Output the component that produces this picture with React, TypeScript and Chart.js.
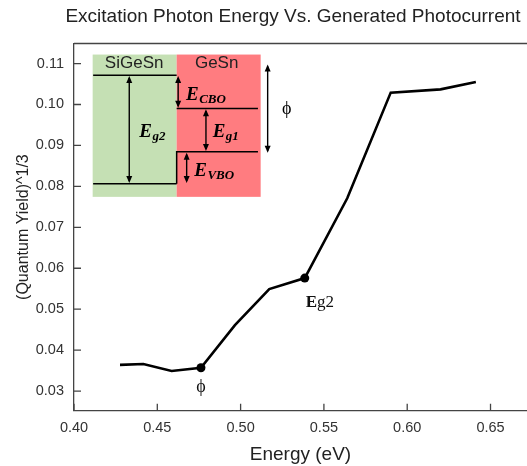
import { useEffect, useRef } from "react";
import { Chart, registerables } from "chart.js";
Chart.register(...registerables);

// ---- data ----
const energy = [0.4276, 0.4416, 0.4586, 0.4762, 0.4966, 0.5172, 0.5385, 0.564, 0.5901, 0.62, 0.6412];
const yieldCubeRoot = [0.0364, 0.0366, 0.0349, 0.0357, 0.0461, 0.0549, 0.0576, 0.0771, 0.1029, 0.1037, 0.1055];
const markedPoints = [3, 6];
const markedLabels = ["ϕ", "Eg2"];
const xTickValues = [0.4, 0.45, 0.5, 0.55, 0.6, 0.65];
const yTickValues = [0.03, 0.04, 0.05, 0.06, 0.07, 0.08, 0.09, 0.1, 0.11];
const titleText = "Excitation Photon Energy Vs. Generated Photocurrent";
const xTitle = "Energy (eV)";
const yTitle = "(Quantum Yield)^1/3";
const leftMaterial = "SiGeSn";
const rightMaterial = "GeSn";

// ---- inset (band diagram) placement: anchored at a data position, offsets in px ----
const insetAnchor = { x: 0.4112, y: 0.1122 };

const SANS = '"Liberation Sans", Arial, sans-serif';
const SERIF = '"Liberation Serif", "Times New Roman", serif';

function drawArrow(ctx: CanvasRenderingContext2D, x: number, y1: number, y2: number) {
  const hl = 7, hw = 3;
  ctx.beginPath();
  ctx.moveTo(x, y1 + 2);
  ctx.lineTo(x, y2 - 2);
  ctx.stroke();
  ctx.beginPath();
  ctx.moveTo(x, y1);
  ctx.lineTo(x - hw, y1 + hl);
  ctx.lineTo(x + hw, y1 + hl);
  ctx.closePath();
  ctx.fill();
  ctx.beginPath();
  ctx.moveTo(x, y2);
  ctx.lineTo(x - hw, y2 - hl);
  ctx.lineTo(x + hw, y2 - hl);
  ctx.closePath();
  ctx.fill();
}

function mathLabel(ctx: CanvasRenderingContext2D, x: number, y: number, main: string, sub: string) {
  ctx.textAlign = "left";
  ctx.textBaseline = "alphabetic";
  ctx.font = `italic bold 19px ${SERIF}`;
  ctx.fillText(main, x, y);
  const w = ctx.measureText(main).width;
  ctx.font = `italic bold 13px ${SERIF}`;
  ctx.fillText(sub, x + w + 0.5, y + 3);
}

const framePlugin = {
  id: "frameAndTicks",
  afterDraw(chart: any) {
    const { ctx, chartArea } = chart;
    const xs = chart.scales.x;
    const ys = chart.scales.y;
    ctx.save();
    // title
    ctx.fillStyle = "#222";
    ctx.font = `19px ${SANS}`;
    ctx.textAlign = "center";
    ctx.textBaseline = "alphabetic";
    ctx.fillText(titleText, 293, 21.5);

    ctx.strokeStyle = "#444";
    ctx.lineWidth = 1.3;
    ctx.beginPath();
    ctx.moveTo(chartArea.left, chartArea.top);
    ctx.lineTo(chartArea.right + 2, chartArea.top);
    ctx.stroke();
    ctx.beginPath();
    xTickValues.forEach((v) => {
      const px = xs.getPixelForValue(v);
      ctx.moveTo(px, chartArea.bottom);
      ctx.lineTo(px, chartArea.bottom - 7);
    });
    yTickValues.forEach((v) => {
      const py = ys.getPixelForValue(v);
      ctx.moveTo(chartArea.left, py);
      ctx.lineTo(chartArea.left + 7, py);
    });
    ctx.stroke();
    ctx.restore();
  },
};

const annotationPlugin = {
  id: "annotations",
  afterDatasetsDraw(chart: any) {
    const { ctx } = chart;
    const meta = chart.getDatasetMeta(0);
    ctx.save();
    ctx.fillStyle = "#111";
    // point labels
    const p0 = meta.data[markedPoints[0]];
    ctx.font = `18px ${SERIF}`;
    ctx.textAlign = "center";
    ctx.textBaseline = "middle";
    ctx.fillText(markedLabels[0], p0.x, p0.y + 20);
    const p1 = meta.data[markedPoints[1]];
    ctx.textAlign = "left";
    ctx.font = `bold 17px ${SERIF}`;
    const eTxt = markedLabels[1].slice(0, 1);
    const rest = markedLabels[1].slice(1);
    const ex = p1.x + 1;
    const ey = p1.y + 29;
    ctx.textBaseline = "alphabetic";
    ctx.fillText(eTxt, ex, ey);
    const ew = ctx.measureText(eTxt).width;
    ctx.font = `17px ${SERIF}`;
    ctx.fillText(rest, ex + ew, ey);

    // inset band diagram
    const ox = chart.scales.x.getPixelForValue(insetAnchor.x);
    const oy = chart.scales.y.getPixelForValue(insetAnchor.y);
    ctx.translate(ox, oy);
    ctx.fillStyle = "#c5e0b4";
    ctx.fillRect(0, 0, 84, 142.3);
    ctx.fillStyle = "#ff7c80";
    ctx.fillRect(84, 0, 84, 142.3);

    ctx.fillStyle = "#222";
    ctx.font = `17px ${SANS}`;
    ctx.textAlign = "center";
    ctx.textBaseline = "alphabetic";
    ctx.fillText(leftMaterial, 41.5, 13.5);
    ctx.fillText(rightMaterial, 124, 13.5);

    ctx.strokeStyle = "#000";
    ctx.fillStyle = "#000";
    ctx.lineWidth = 1.5;
    ctx.beginPath();
    ctx.moveTo(0.5, 20.7);
    ctx.lineTo(84, 20.7);
    ctx.moveTo(0.5, 129.3);
    ctx.lineTo(84, 129.3);
    ctx.moveTo(84, 54);
    ctx.lineTo(165.3, 54);
    ctx.moveTo(84, 129.3);
    ctx.lineTo(84, 97.3);
    ctx.lineTo(165.3, 97.3);
    ctx.stroke();

    ctx.lineWidth = 1.4;
    drawArrow(ctx, 36.6, 21.5, 128.5);
    drawArrow(ctx, 85.5, 21.5, 53.2);
    drawArrow(ctx, 113.3, 54.8, 96.5);
    drawArrow(ctx, 94, 98.1, 128.5);
    drawArrow(ctx, 175, 10, 98.3);

    ctx.font = `18px ${SERIF}`;
    ctx.textAlign = "center";
    ctx.textBaseline = "middle";
    ctx.fillText("ϕ", 194, 55);

    mathLabel(ctx, 93.3, 45, "E", "CBO");
    mathLabel(ctx, 46.6, 82.7, "E", "g2");
    mathLabel(ctx, 120, 82.7, "E", "g1");
    mathLabel(ctx, 101.6, 121.7, "E", "VBO");
    ctx.restore();
  },
};

export default function App() {
  const ref = useRef<HTMLCanvasElement | null>(null);
  useEffect(() => {
    document.body.style.margin = "0";
    const canvas = ref.current!;
    const chart = new Chart(canvas, {
      type: "line",
      data: {
        datasets: [
          {
            data: energy.map((x, i) => ({ x, y: yieldCubeRoot[i] })),
            borderColor: "#000",
            borderWidth: 2.6,
            backgroundColor: "#000",
            pointBackgroundColor: "#000",
            pointBorderWidth: 0,
            pointRadius: (c: any) => (markedPoints.includes(c.dataIndex) ? 4.5 : 0),
            tension: 0,
            fill: false,
          },
        ],
      },
      options: {
        animation: false,
        responsive: false,
        devicePixelRatio: 1,
        layout: { padding: { top: 43.5, left: 0, right: 0, bottom: 0 } },
        plugins: {
          legend: { display: false },
          tooltip: { enabled: false },
          title: { display: false },
        },
        scales: {
          x: {
            type: "linear",
            min: 0.4,
            max: 0.6719,
            grid: { display: false, drawTicks: false },
            border: { display: true, color: "#444", width: 1.3 },
            ticks: {
              includeBounds: false,
              color: "#333",
              font: { family: SANS, size: 14.5 },
              padding: 9,
              callback: (v: any) => Number(v).toFixed(2),
            },
            afterBuildTicks: (s: any) => {
              s.ticks = xTickValues.map((value) => ({ value }));
            },
            afterFit: (s: any) => {
              s.height = 55.3;
            },
            title: {
              display: true,
              text: xTitle,
              color: "#222",
              font: { family: SANS, size: 19 },
              padding: { top: 0, bottom: 0 },
            },
          },
          y: {
            type: "linear",
            min: 0.0252,
            max: 0.1149,
            grid: { display: false, drawTicks: false },
            border: { display: true, color: "#444", width: 1.3 },
            ticks: {
              includeBounds: false,
              color: "#333",
              font: { family: SANS, size: 14.5 },
              padding: 10,
              callback: (v: any) => Number(v).toFixed(2),
            },
            afterBuildTicks: (s: any) => {
              s.ticks = yTickValues.map((value) => ({ value }));
            },
            afterFit: (s: any) => {
              s.width = 74;
            },
            title: {
              display: true,
              text: yTitle,
              color: "#222",
              font: { family: SANS, size: 16 },
              padding: { top: 14, bottom: 0 },
            },
          },
        },
      },
      plugins: [framePlugin, annotationPlugin],
    } as any);
    return () => chart.destroy();
  }, []);
  return <canvas ref={ref} width={527} height={466} style={{ display: "block" }} />;
}
